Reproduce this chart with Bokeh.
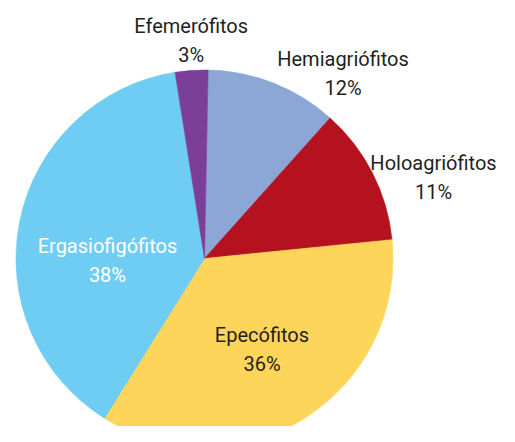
import math
from bokeh.plotting import figure
from bokeh.models import Range1d, ColumnDataSource
from bokeh.core.properties import value
from bokeh.embed import file_html
from bokeh.resources import INLINE

# ---- data ----
categories = ["Hemiagriófitos", "Holoagriófitos", "Epecófitos", "Ergasiofigófitos", "Efemerófitos"]
shares = [11.3, 11.8, 35.5, 38.6, 2.8]          # percent
pct_labels = ["12%", "11%", "36%", "38%", "3%"]

# ---- style ----
colors = ["#8CA6D5", "#B3121E", "#FED55B", "#6FCDF4", "#7C3F97"]
label_colors = ["#231F20", "#231F20", "#231F20", "#FFFFFF", "#231F20"]
label_angle_deg = [36.9, 70.6, 147.6, 268.8, -3.5]   # clockwise from 12 o'clock
label_radius_frac = [1.224, 1.288, 0.569, 0.515, 1.161]
START_DEG = 1.1
W, H = 499, 426
CX, CY = 204, H - 258
R = 188.5
LINE_GAP = 14.5
FONT = "Roboto"
FONT_SIZE = "20px"

total = sum(shares)
starts, ends = [], []
acc = START_DEG
for s in shares:
    a0 = acc
    a1 = acc + s / total * 360.0
    starts.append(math.radians(90 - a0))
    ends.append(math.radians(90 - a1))
    acc = a1

src = ColumnDataSource(dict(start=starts, end=ends, color=colors))

p = figure(width=W, height=H, x_range=Range1d(0, W), y_range=Range1d(0, H),
           output_backend="svg", toolbar_location=None, min_border=0,
           outline_line_color=None)
p.axis.visible = False
p.grid.visible = False
p.background_fill_color = "white"
p.border_fill_color = "white"

p.wedge(x=CX, y=CY, radius=R, start_angle="start", end_angle="end",
        direction="clock", fill_color="color", line_color="color",
        line_width=0.6, source=src)

lx, ly = [], []
for a, f in zip(label_angle_deg, label_radius_frac):
    lx.append(CX + R * f * math.sin(math.radians(a)))
    ly.append(CY + R * f * math.cos(math.radians(a)))

name_src = ColumnDataSource(dict(x=lx, y=[v + LINE_GAP for v in ly], t=categories, c=label_colors))
pct_src = ColumnDataSource(dict(x=lx, y=[v - LINE_GAP for v in ly], t=pct_labels, c=label_colors))

for s in (name_src, pct_src):
    p.text(x="x", y="y", text="t", text_color="c", source=s,
           text_font=value(FONT), text_font_size=FONT_SIZE,
           text_align="center", text_baseline="middle")

open("out.html", "w").write(file_html(p, INLINE))
